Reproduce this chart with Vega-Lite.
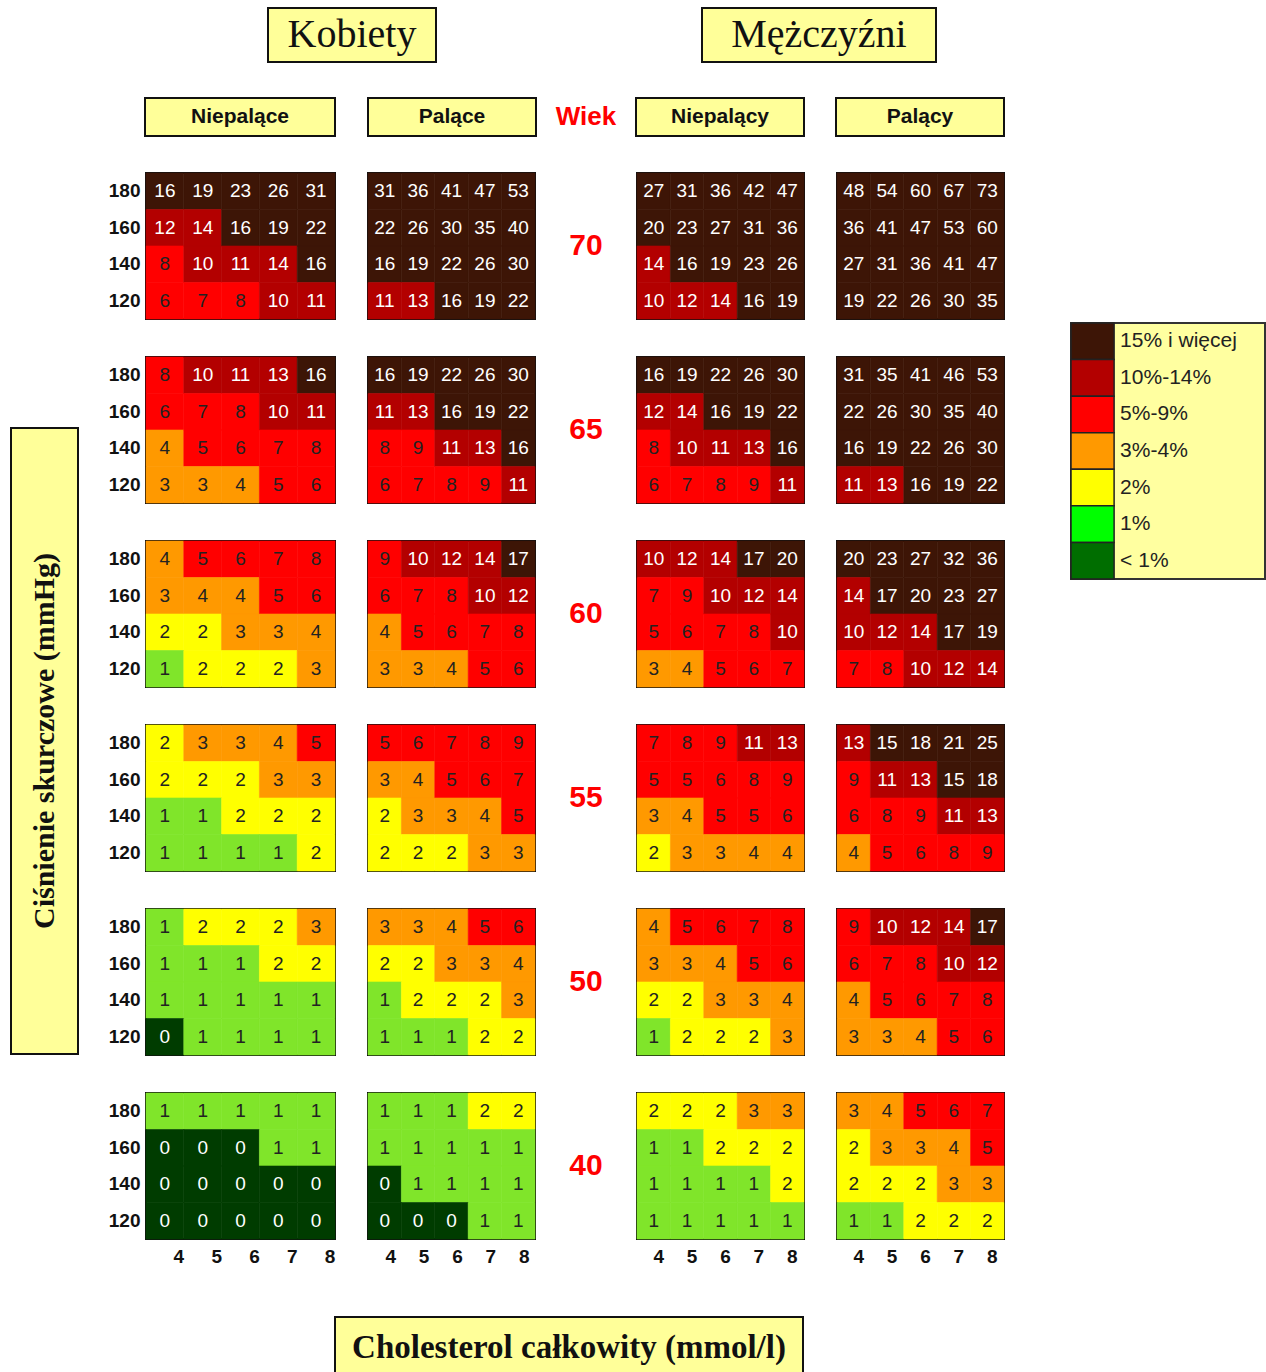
{
"$schema": "https://vega.github.io/schema/vega-lite/v6.json",
"padding": {"left": 10, "top": 7, "right": 0, "bottom": 0},
"background": "white",
"config": {"view": {"stroke": null}, "font": "Liberation Sans"},
"datasets": {
"ages": [{"a":70},{"a":65},{"a":60},{"a":55},{"a":50},{"a":40}],
"leg": [{"r":"15% i więcej"},{"r":"10%-14%"},{"r":"5%-9%"},{"r":"3%-4%"},{"r":"2%"},{"r":"1%"},{"r":"< 1%"}],
"cells": [
{"a":70,"g":"KNP","s":180,"c":4,"v":16},{"a":70,"g":"KNP","s":180,"c":5,"v":19},{"a":70,"g":"KNP","s":180,"c":6,"v":23},{"a":70,"g":"KNP","s":180,"c":7,"v":26},{"a":70,"g":"KNP","s":180,"c":8,"v":31},
{"a":70,"g":"KNP","s":160,"c":4,"v":12},{"a":70,"g":"KNP","s":160,"c":5,"v":14},{"a":70,"g":"KNP","s":160,"c":6,"v":16},{"a":70,"g":"KNP","s":160,"c":7,"v":19},{"a":70,"g":"KNP","s":160,"c":8,"v":22},
{"a":70,"g":"KNP","s":140,"c":4,"v":8},{"a":70,"g":"KNP","s":140,"c":5,"v":10},{"a":70,"g":"KNP","s":140,"c":6,"v":11},{"a":70,"g":"KNP","s":140,"c":7,"v":14},{"a":70,"g":"KNP","s":140,"c":8,"v":16},
{"a":70,"g":"KNP","s":120,"c":4,"v":6},{"a":70,"g":"KNP","s":120,"c":5,"v":7},{"a":70,"g":"KNP","s":120,"c":6,"v":8},{"a":70,"g":"KNP","s":120,"c":7,"v":10},{"a":70,"g":"KNP","s":120,"c":8,"v":11},
{"a":70,"g":"KP","s":180,"c":4,"v":31},{"a":70,"g":"KP","s":180,"c":5,"v":36},{"a":70,"g":"KP","s":180,"c":6,"v":41},{"a":70,"g":"KP","s":180,"c":7,"v":47},{"a":70,"g":"KP","s":180,"c":8,"v":53},
{"a":70,"g":"KP","s":160,"c":4,"v":22},{"a":70,"g":"KP","s":160,"c":5,"v":26},{"a":70,"g":"KP","s":160,"c":6,"v":30},{"a":70,"g":"KP","s":160,"c":7,"v":35},{"a":70,"g":"KP","s":160,"c":8,"v":40},
{"a":70,"g":"KP","s":140,"c":4,"v":16},{"a":70,"g":"KP","s":140,"c":5,"v":19},{"a":70,"g":"KP","s":140,"c":6,"v":22},{"a":70,"g":"KP","s":140,"c":7,"v":26},{"a":70,"g":"KP","s":140,"c":8,"v":30},
{"a":70,"g":"KP","s":120,"c":4,"v":11},{"a":70,"g":"KP","s":120,"c":5,"v":13},{"a":70,"g":"KP","s":120,"c":6,"v":16},{"a":70,"g":"KP","s":120,"c":7,"v":19},{"a":70,"g":"KP","s":120,"c":8,"v":22},
{"a":70,"g":"MNP","s":180,"c":4,"v":27},{"a":70,"g":"MNP","s":180,"c":5,"v":31},{"a":70,"g":"MNP","s":180,"c":6,"v":36},{"a":70,"g":"MNP","s":180,"c":7,"v":42},{"a":70,"g":"MNP","s":180,"c":8,"v":47},
{"a":70,"g":"MNP","s":160,"c":4,"v":20},{"a":70,"g":"MNP","s":160,"c":5,"v":23},{"a":70,"g":"MNP","s":160,"c":6,"v":27},{"a":70,"g":"MNP","s":160,"c":7,"v":31},{"a":70,"g":"MNP","s":160,"c":8,"v":36},
{"a":70,"g":"MNP","s":140,"c":4,"v":14},{"a":70,"g":"MNP","s":140,"c":5,"v":16},{"a":70,"g":"MNP","s":140,"c":6,"v":19},{"a":70,"g":"MNP","s":140,"c":7,"v":23},{"a":70,"g":"MNP","s":140,"c":8,"v":26},
{"a":70,"g":"MNP","s":120,"c":4,"v":10},{"a":70,"g":"MNP","s":120,"c":5,"v":12},{"a":70,"g":"MNP","s":120,"c":6,"v":14},{"a":70,"g":"MNP","s":120,"c":7,"v":16},{"a":70,"g":"MNP","s":120,"c":8,"v":19},
{"a":70,"g":"MP","s":180,"c":4,"v":48},{"a":70,"g":"MP","s":180,"c":5,"v":54},{"a":70,"g":"MP","s":180,"c":6,"v":60},{"a":70,"g":"MP","s":180,"c":7,"v":67},{"a":70,"g":"MP","s":180,"c":8,"v":73},
{"a":70,"g":"MP","s":160,"c":4,"v":36},{"a":70,"g":"MP","s":160,"c":5,"v":41},{"a":70,"g":"MP","s":160,"c":6,"v":47},{"a":70,"g":"MP","s":160,"c":7,"v":53},{"a":70,"g":"MP","s":160,"c":8,"v":60},
{"a":70,"g":"MP","s":140,"c":4,"v":27},{"a":70,"g":"MP","s":140,"c":5,"v":31},{"a":70,"g":"MP","s":140,"c":6,"v":36},{"a":70,"g":"MP","s":140,"c":7,"v":41},{"a":70,"g":"MP","s":140,"c":8,"v":47},
{"a":70,"g":"MP","s":120,"c":4,"v":19},{"a":70,"g":"MP","s":120,"c":5,"v":22},{"a":70,"g":"MP","s":120,"c":6,"v":26},{"a":70,"g":"MP","s":120,"c":7,"v":30},{"a":70,"g":"MP","s":120,"c":8,"v":35},
{"a":65,"g":"KNP","s":180,"c":4,"v":8},{"a":65,"g":"KNP","s":180,"c":5,"v":10},{"a":65,"g":"KNP","s":180,"c":6,"v":11},{"a":65,"g":"KNP","s":180,"c":7,"v":13},{"a":65,"g":"KNP","s":180,"c":8,"v":16},
{"a":65,"g":"KNP","s":160,"c":4,"v":6},{"a":65,"g":"KNP","s":160,"c":5,"v":7},{"a":65,"g":"KNP","s":160,"c":6,"v":8},{"a":65,"g":"KNP","s":160,"c":7,"v":10},{"a":65,"g":"KNP","s":160,"c":8,"v":11},
{"a":65,"g":"KNP","s":140,"c":4,"v":4},{"a":65,"g":"KNP","s":140,"c":5,"v":5},{"a":65,"g":"KNP","s":140,"c":6,"v":6},{"a":65,"g":"KNP","s":140,"c":7,"v":7},{"a":65,"g":"KNP","s":140,"c":8,"v":8},
{"a":65,"g":"KNP","s":120,"c":4,"v":3},{"a":65,"g":"KNP","s":120,"c":5,"v":3},{"a":65,"g":"KNP","s":120,"c":6,"v":4},{"a":65,"g":"KNP","s":120,"c":7,"v":5},{"a":65,"g":"KNP","s":120,"c":8,"v":6},
{"a":65,"g":"KP","s":180,"c":4,"v":16},{"a":65,"g":"KP","s":180,"c":5,"v":19},{"a":65,"g":"KP","s":180,"c":6,"v":22},{"a":65,"g":"KP","s":180,"c":7,"v":26},{"a":65,"g":"KP","s":180,"c":8,"v":30},
{"a":65,"g":"KP","s":160,"c":4,"v":11},{"a":65,"g":"KP","s":160,"c":5,"v":13},{"a":65,"g":"KP","s":160,"c":6,"v":16},{"a":65,"g":"KP","s":160,"c":7,"v":19},{"a":65,"g":"KP","s":160,"c":8,"v":22},
{"a":65,"g":"KP","s":140,"c":4,"v":8},{"a":65,"g":"KP","s":140,"c":5,"v":9},{"a":65,"g":"KP","s":140,"c":6,"v":11},{"a":65,"g":"KP","s":140,"c":7,"v":13},{"a":65,"g":"KP","s":140,"c":8,"v":16},
{"a":65,"g":"KP","s":120,"c":4,"v":6},{"a":65,"g":"KP","s":120,"c":5,"v":7},{"a":65,"g":"KP","s":120,"c":6,"v":8},{"a":65,"g":"KP","s":120,"c":7,"v":9},{"a":65,"g":"KP","s":120,"c":8,"v":11},
{"a":65,"g":"MNP","s":180,"c":4,"v":16},{"a":65,"g":"MNP","s":180,"c":5,"v":19},{"a":65,"g":"MNP","s":180,"c":6,"v":22},{"a":65,"g":"MNP","s":180,"c":7,"v":26},{"a":65,"g":"MNP","s":180,"c":8,"v":30},
{"a":65,"g":"MNP","s":160,"c":4,"v":12},{"a":65,"g":"MNP","s":160,"c":5,"v":14},{"a":65,"g":"MNP","s":160,"c":6,"v":16},{"a":65,"g":"MNP","s":160,"c":7,"v":19},{"a":65,"g":"MNP","s":160,"c":8,"v":22},
{"a":65,"g":"MNP","s":140,"c":4,"v":8},{"a":65,"g":"MNP","s":140,"c":5,"v":10},{"a":65,"g":"MNP","s":140,"c":6,"v":11},{"a":65,"g":"MNP","s":140,"c":7,"v":13},{"a":65,"g":"MNP","s":140,"c":8,"v":16},
{"a":65,"g":"MNP","s":120,"c":4,"v":6},{"a":65,"g":"MNP","s":120,"c":5,"v":7},{"a":65,"g":"MNP","s":120,"c":6,"v":8},{"a":65,"g":"MNP","s":120,"c":7,"v":9},{"a":65,"g":"MNP","s":120,"c":8,"v":11},
{"a":65,"g":"MP","s":180,"c":4,"v":31},{"a":65,"g":"MP","s":180,"c":5,"v":35},{"a":65,"g":"MP","s":180,"c":6,"v":41},{"a":65,"g":"MP","s":180,"c":7,"v":46},{"a":65,"g":"MP","s":180,"c":8,"v":53},
{"a":65,"g":"MP","s":160,"c":4,"v":22},{"a":65,"g":"MP","s":160,"c":5,"v":26},{"a":65,"g":"MP","s":160,"c":6,"v":30},{"a":65,"g":"MP","s":160,"c":7,"v":35},{"a":65,"g":"MP","s":160,"c":8,"v":40},
{"a":65,"g":"MP","s":140,"c":4,"v":16},{"a":65,"g":"MP","s":140,"c":5,"v":19},{"a":65,"g":"MP","s":140,"c":6,"v":22},{"a":65,"g":"MP","s":140,"c":7,"v":26},{"a":65,"g":"MP","s":140,"c":8,"v":30},
{"a":65,"g":"MP","s":120,"c":4,"v":11},{"a":65,"g":"MP","s":120,"c":5,"v":13},{"a":65,"g":"MP","s":120,"c":6,"v":16},{"a":65,"g":"MP","s":120,"c":7,"v":19},{"a":65,"g":"MP","s":120,"c":8,"v":22},
{"a":60,"g":"KNP","s":180,"c":4,"v":4},{"a":60,"g":"KNP","s":180,"c":5,"v":5},{"a":60,"g":"KNP","s":180,"c":6,"v":6},{"a":60,"g":"KNP","s":180,"c":7,"v":7},{"a":60,"g":"KNP","s":180,"c":8,"v":8},
{"a":60,"g":"KNP","s":160,"c":4,"v":3},{"a":60,"g":"KNP","s":160,"c":5,"v":4},{"a":60,"g":"KNP","s":160,"c":6,"v":4},{"a":60,"g":"KNP","s":160,"c":7,"v":5},{"a":60,"g":"KNP","s":160,"c":8,"v":6},
{"a":60,"g":"KNP","s":140,"c":4,"v":2},{"a":60,"g":"KNP","s":140,"c":5,"v":2},{"a":60,"g":"KNP","s":140,"c":6,"v":3},{"a":60,"g":"KNP","s":140,"c":7,"v":3},{"a":60,"g":"KNP","s":140,"c":8,"v":4},
{"a":60,"g":"KNP","s":120,"c":4,"v":1},{"a":60,"g":"KNP","s":120,"c":5,"v":2},{"a":60,"g":"KNP","s":120,"c":6,"v":2},{"a":60,"g":"KNP","s":120,"c":7,"v":2},{"a":60,"g":"KNP","s":120,"c":8,"v":3},
{"a":60,"g":"KP","s":180,"c":4,"v":9},{"a":60,"g":"KP","s":180,"c":5,"v":10},{"a":60,"g":"KP","s":180,"c":6,"v":12},{"a":60,"g":"KP","s":180,"c":7,"v":14},{"a":60,"g":"KP","s":180,"c":8,"v":17},
{"a":60,"g":"KP","s":160,"c":4,"v":6},{"a":60,"g":"KP","s":160,"c":5,"v":7},{"a":60,"g":"KP","s":160,"c":6,"v":8},{"a":60,"g":"KP","s":160,"c":7,"v":10},{"a":60,"g":"KP","s":160,"c":8,"v":12},
{"a":60,"g":"KP","s":140,"c":4,"v":4},{"a":60,"g":"KP","s":140,"c":5,"v":5},{"a":60,"g":"KP","s":140,"c":6,"v":6},{"a":60,"g":"KP","s":140,"c":7,"v":7},{"a":60,"g":"KP","s":140,"c":8,"v":8},
{"a":60,"g":"KP","s":120,"c":4,"v":3},{"a":60,"g":"KP","s":120,"c":5,"v":3},{"a":60,"g":"KP","s":120,"c":6,"v":4},{"a":60,"g":"KP","s":120,"c":7,"v":5},{"a":60,"g":"KP","s":120,"c":8,"v":6},
{"a":60,"g":"MNP","s":180,"c":4,"v":10},{"a":60,"g":"MNP","s":180,"c":5,"v":12},{"a":60,"g":"MNP","s":180,"c":6,"v":14},{"a":60,"g":"MNP","s":180,"c":7,"v":17},{"a":60,"g":"MNP","s":180,"c":8,"v":20},
{"a":60,"g":"MNP","s":160,"c":4,"v":7},{"a":60,"g":"MNP","s":160,"c":5,"v":9},{"a":60,"g":"MNP","s":160,"c":6,"v":10},{"a":60,"g":"MNP","s":160,"c":7,"v":12},{"a":60,"g":"MNP","s":160,"c":8,"v":14},
{"a":60,"g":"MNP","s":140,"c":4,"v":5},{"a":60,"g":"MNP","s":140,"c":5,"v":6},{"a":60,"g":"MNP","s":140,"c":6,"v":7},{"a":60,"g":"MNP","s":140,"c":7,"v":8},{"a":60,"g":"MNP","s":140,"c":8,"v":10},
{"a":60,"g":"MNP","s":120,"c":4,"v":3},{"a":60,"g":"MNP","s":120,"c":5,"v":4},{"a":60,"g":"MNP","s":120,"c":6,"v":5},{"a":60,"g":"MNP","s":120,"c":7,"v":6},{"a":60,"g":"MNP","s":120,"c":8,"v":7},
{"a":60,"g":"MP","s":180,"c":4,"v":20},{"a":60,"g":"MP","s":180,"c":5,"v":23},{"a":60,"g":"MP","s":180,"c":6,"v":27},{"a":60,"g":"MP","s":180,"c":7,"v":32},{"a":60,"g":"MP","s":180,"c":8,"v":36},
{"a":60,"g":"MP","s":160,"c":4,"v":14},{"a":60,"g":"MP","s":160,"c":5,"v":17},{"a":60,"g":"MP","s":160,"c":6,"v":20},{"a":60,"g":"MP","s":160,"c":7,"v":23},{"a":60,"g":"MP","s":160,"c":8,"v":27},
{"a":60,"g":"MP","s":140,"c":4,"v":10},{"a":60,"g":"MP","s":140,"c":5,"v":12},{"a":60,"g":"MP","s":140,"c":6,"v":14},{"a":60,"g":"MP","s":140,"c":7,"v":17},{"a":60,"g":"MP","s":140,"c":8,"v":19},
{"a":60,"g":"MP","s":120,"c":4,"v":7},{"a":60,"g":"MP","s":120,"c":5,"v":8},{"a":60,"g":"MP","s":120,"c":6,"v":10},{"a":60,"g":"MP","s":120,"c":7,"v":12},{"a":60,"g":"MP","s":120,"c":8,"v":14},
{"a":55,"g":"KNP","s":180,"c":4,"v":2},{"a":55,"g":"KNP","s":180,"c":5,"v":3},{"a":55,"g":"KNP","s":180,"c":6,"v":3},{"a":55,"g":"KNP","s":180,"c":7,"v":4},{"a":55,"g":"KNP","s":180,"c":8,"v":5},
{"a":55,"g":"KNP","s":160,"c":4,"v":2},{"a":55,"g":"KNP","s":160,"c":5,"v":2},{"a":55,"g":"KNP","s":160,"c":6,"v":2},{"a":55,"g":"KNP","s":160,"c":7,"v":3},{"a":55,"g":"KNP","s":160,"c":8,"v":3},
{"a":55,"g":"KNP","s":140,"c":4,"v":1},{"a":55,"g":"KNP","s":140,"c":5,"v":1},{"a":55,"g":"KNP","s":140,"c":6,"v":2},{"a":55,"g":"KNP","s":140,"c":7,"v":2},{"a":55,"g":"KNP","s":140,"c":8,"v":2},
{"a":55,"g":"KNP","s":120,"c":4,"v":1},{"a":55,"g":"KNP","s":120,"c":5,"v":1},{"a":55,"g":"KNP","s":120,"c":6,"v":1},{"a":55,"g":"KNP","s":120,"c":7,"v":1},{"a":55,"g":"KNP","s":120,"c":8,"v":2},
{"a":55,"g":"KP","s":180,"c":4,"v":5},{"a":55,"g":"KP","s":180,"c":5,"v":6},{"a":55,"g":"KP","s":180,"c":6,"v":7},{"a":55,"g":"KP","s":180,"c":7,"v":8},{"a":55,"g":"KP","s":180,"c":8,"v":9},
{"a":55,"g":"KP","s":160,"c":4,"v":3},{"a":55,"g":"KP","s":160,"c":5,"v":4},{"a":55,"g":"KP","s":160,"c":6,"v":5},{"a":55,"g":"KP","s":160,"c":7,"v":6},{"a":55,"g":"KP","s":160,"c":8,"v":7},
{"a":55,"g":"KP","s":140,"c":4,"v":2},{"a":55,"g":"KP","s":140,"c":5,"v":3},{"a":55,"g":"KP","s":140,"c":6,"v":3},{"a":55,"g":"KP","s":140,"c":7,"v":4},{"a":55,"g":"KP","s":140,"c":8,"v":5},
{"a":55,"g":"KP","s":120,"c":4,"v":2},{"a":55,"g":"KP","s":120,"c":5,"v":2},{"a":55,"g":"KP","s":120,"c":6,"v":2},{"a":55,"g":"KP","s":120,"c":7,"v":3},{"a":55,"g":"KP","s":120,"c":8,"v":3},
{"a":55,"g":"MNP","s":180,"c":4,"v":7},{"a":55,"g":"MNP","s":180,"c":5,"v":8},{"a":55,"g":"MNP","s":180,"c":6,"v":9},{"a":55,"g":"MNP","s":180,"c":7,"v":11},{"a":55,"g":"MNP","s":180,"c":8,"v":13},
{"a":55,"g":"MNP","s":160,"c":4,"v":5},{"a":55,"g":"MNP","s":160,"c":5,"v":5},{"a":55,"g":"MNP","s":160,"c":6,"v":6},{"a":55,"g":"MNP","s":160,"c":7,"v":8},{"a":55,"g":"MNP","s":160,"c":8,"v":9},
{"a":55,"g":"MNP","s":140,"c":4,"v":3},{"a":55,"g":"MNP","s":140,"c":5,"v":4},{"a":55,"g":"MNP","s":140,"c":6,"v":5},{"a":55,"g":"MNP","s":140,"c":7,"v":5},{"a":55,"g":"MNP","s":140,"c":8,"v":6},
{"a":55,"g":"MNP","s":120,"c":4,"v":2},{"a":55,"g":"MNP","s":120,"c":5,"v":3},{"a":55,"g":"MNP","s":120,"c":6,"v":3},{"a":55,"g":"MNP","s":120,"c":7,"v":4},{"a":55,"g":"MNP","s":120,"c":8,"v":4},
{"a":55,"g":"MP","s":180,"c":4,"v":13},{"a":55,"g":"MP","s":180,"c":5,"v":15},{"a":55,"g":"MP","s":180,"c":6,"v":18},{"a":55,"g":"MP","s":180,"c":7,"v":21},{"a":55,"g":"MP","s":180,"c":8,"v":25},
{"a":55,"g":"MP","s":160,"c":4,"v":9},{"a":55,"g":"MP","s":160,"c":5,"v":11},{"a":55,"g":"MP","s":160,"c":6,"v":13},{"a":55,"g":"MP","s":160,"c":7,"v":15},{"a":55,"g":"MP","s":160,"c":8,"v":18},
{"a":55,"g":"MP","s":140,"c":4,"v":6},{"a":55,"g":"MP","s":140,"c":5,"v":8},{"a":55,"g":"MP","s":140,"c":6,"v":9},{"a":55,"g":"MP","s":140,"c":7,"v":11},{"a":55,"g":"MP","s":140,"c":8,"v":13},
{"a":55,"g":"MP","s":120,"c":4,"v":4},{"a":55,"g":"MP","s":120,"c":5,"v":5},{"a":55,"g":"MP","s":120,"c":6,"v":6},{"a":55,"g":"MP","s":120,"c":7,"v":8},{"a":55,"g":"MP","s":120,"c":8,"v":9},
{"a":50,"g":"KNP","s":180,"c":4,"v":1},{"a":50,"g":"KNP","s":180,"c":5,"v":2},{"a":50,"g":"KNP","s":180,"c":6,"v":2},{"a":50,"g":"KNP","s":180,"c":7,"v":2},{"a":50,"g":"KNP","s":180,"c":8,"v":3},
{"a":50,"g":"KNP","s":160,"c":4,"v":1},{"a":50,"g":"KNP","s":160,"c":5,"v":1},{"a":50,"g":"KNP","s":160,"c":6,"v":1},{"a":50,"g":"KNP","s":160,"c":7,"v":2},{"a":50,"g":"KNP","s":160,"c":8,"v":2},
{"a":50,"g":"KNP","s":140,"c":4,"v":1},{"a":50,"g":"KNP","s":140,"c":5,"v":1},{"a":50,"g":"KNP","s":140,"c":6,"v":1},{"a":50,"g":"KNP","s":140,"c":7,"v":1},{"a":50,"g":"KNP","s":140,"c":8,"v":1},
{"a":50,"g":"KNP","s":120,"c":4,"v":0},{"a":50,"g":"KNP","s":120,"c":5,"v":1},{"a":50,"g":"KNP","s":120,"c":6,"v":1},{"a":50,"g":"KNP","s":120,"c":7,"v":1},{"a":50,"g":"KNP","s":120,"c":8,"v":1},
{"a":50,"g":"KP","s":180,"c":4,"v":3},{"a":50,"g":"KP","s":180,"c":5,"v":3},{"a":50,"g":"KP","s":180,"c":6,"v":4},{"a":50,"g":"KP","s":180,"c":7,"v":5},{"a":50,"g":"KP","s":180,"c":8,"v":6},
{"a":50,"g":"KP","s":160,"c":4,"v":2},{"a":50,"g":"KP","s":160,"c":5,"v":2},{"a":50,"g":"KP","s":160,"c":6,"v":3},{"a":50,"g":"KP","s":160,"c":7,"v":3},{"a":50,"g":"KP","s":160,"c":8,"v":4},
{"a":50,"g":"KP","s":140,"c":4,"v":1},{"a":50,"g":"KP","s":140,"c":5,"v":2},{"a":50,"g":"KP","s":140,"c":6,"v":2},{"a":50,"g":"KP","s":140,"c":7,"v":2},{"a":50,"g":"KP","s":140,"c":8,"v":3},
{"a":50,"g":"KP","s":120,"c":4,"v":1},{"a":50,"g":"KP","s":120,"c":5,"v":1},{"a":50,"g":"KP","s":120,"c":6,"v":1},{"a":50,"g":"KP","s":120,"c":7,"v":2},{"a":50,"g":"KP","s":120,"c":8,"v":2},
{"a":50,"g":"MNP","s":180,"c":4,"v":4},{"a":50,"g":"MNP","s":180,"c":5,"v":5},{"a":50,"g":"MNP","s":180,"c":6,"v":6},{"a":50,"g":"MNP","s":180,"c":7,"v":7},{"a":50,"g":"MNP","s":180,"c":8,"v":8},
{"a":50,"g":"MNP","s":160,"c":4,"v":3},{"a":50,"g":"MNP","s":160,"c":5,"v":3},{"a":50,"g":"MNP","s":160,"c":6,"v":4},{"a":50,"g":"MNP","s":160,"c":7,"v":5},{"a":50,"g":"MNP","s":160,"c":8,"v":6},
{"a":50,"g":"MNP","s":140,"c":4,"v":2},{"a":50,"g":"MNP","s":140,"c":5,"v":2},{"a":50,"g":"MNP","s":140,"c":6,"v":3},{"a":50,"g":"MNP","s":140,"c":7,"v":3},{"a":50,"g":"MNP","s":140,"c":8,"v":4},
{"a":50,"g":"MNP","s":120,"c":4,"v":1},{"a":50,"g":"MNP","s":120,"c":5,"v":2},{"a":50,"g":"MNP","s":120,"c":6,"v":2},{"a":50,"g":"MNP","s":120,"c":7,"v":2},{"a":50,"g":"MNP","s":120,"c":8,"v":3},
{"a":50,"g":"MP","s":180,"c":4,"v":9},{"a":50,"g":"MP","s":180,"c":5,"v":10},{"a":50,"g":"MP","s":180,"c":6,"v":12},{"a":50,"g":"MP","s":180,"c":7,"v":14},{"a":50,"g":"MP","s":180,"c":8,"v":17},
{"a":50,"g":"MP","s":160,"c":4,"v":6},{"a":50,"g":"MP","s":160,"c":5,"v":7},{"a":50,"g":"MP","s":160,"c":6,"v":8},{"a":50,"g":"MP","s":160,"c":7,"v":10},{"a":50,"g":"MP","s":160,"c":8,"v":12},
{"a":50,"g":"MP","s":140,"c":4,"v":4},{"a":50,"g":"MP","s":140,"c":5,"v":5},{"a":50,"g":"MP","s":140,"c":6,"v":6},{"a":50,"g":"MP","s":140,"c":7,"v":7},{"a":50,"g":"MP","s":140,"c":8,"v":8},
{"a":50,"g":"MP","s":120,"c":4,"v":3},{"a":50,"g":"MP","s":120,"c":5,"v":3},{"a":50,"g":"MP","s":120,"c":6,"v":4},{"a":50,"g":"MP","s":120,"c":7,"v":5},{"a":50,"g":"MP","s":120,"c":8,"v":6},
{"a":40,"g":"KNP","s":180,"c":4,"v":1},{"a":40,"g":"KNP","s":180,"c":5,"v":1},{"a":40,"g":"KNP","s":180,"c":6,"v":1},{"a":40,"g":"KNP","s":180,"c":7,"v":1},{"a":40,"g":"KNP","s":180,"c":8,"v":1},
{"a":40,"g":"KNP","s":160,"c":4,"v":0},{"a":40,"g":"KNP","s":160,"c":5,"v":0},{"a":40,"g":"KNP","s":160,"c":6,"v":0},{"a":40,"g":"KNP","s":160,"c":7,"v":1},{"a":40,"g":"KNP","s":160,"c":8,"v":1},
{"a":40,"g":"KNP","s":140,"c":4,"v":0},{"a":40,"g":"KNP","s":140,"c":5,"v":0},{"a":40,"g":"KNP","s":140,"c":6,"v":0},{"a":40,"g":"KNP","s":140,"c":7,"v":0},{"a":40,"g":"KNP","s":140,"c":8,"v":0},
{"a":40,"g":"KNP","s":120,"c":4,"v":0},{"a":40,"g":"KNP","s":120,"c":5,"v":0},{"a":40,"g":"KNP","s":120,"c":6,"v":0},{"a":40,"g":"KNP","s":120,"c":7,"v":0},{"a":40,"g":"KNP","s":120,"c":8,"v":0},
{"a":40,"g":"KP","s":180,"c":4,"v":1},{"a":40,"g":"KP","s":180,"c":5,"v":1},{"a":40,"g":"KP","s":180,"c":6,"v":1},{"a":40,"g":"KP","s":180,"c":7,"v":2},{"a":40,"g":"KP","s":180,"c":8,"v":2},
{"a":40,"g":"KP","s":160,"c":4,"v":1},{"a":40,"g":"KP","s":160,"c":5,"v":1},{"a":40,"g":"KP","s":160,"c":6,"v":1},{"a":40,"g":"KP","s":160,"c":7,"v":1},{"a":40,"g":"KP","s":160,"c":8,"v":1},
{"a":40,"g":"KP","s":140,"c":4,"v":0},{"a":40,"g":"KP","s":140,"c":5,"v":1},{"a":40,"g":"KP","s":140,"c":6,"v":1},{"a":40,"g":"KP","s":140,"c":7,"v":1},{"a":40,"g":"KP","s":140,"c":8,"v":1},
{"a":40,"g":"KP","s":120,"c":4,"v":0},{"a":40,"g":"KP","s":120,"c":5,"v":0},{"a":40,"g":"KP","s":120,"c":6,"v":0},{"a":40,"g":"KP","s":120,"c":7,"v":1},{"a":40,"g":"KP","s":120,"c":8,"v":1},
{"a":40,"g":"MNP","s":180,"c":4,"v":2},{"a":40,"g":"MNP","s":180,"c":5,"v":2},{"a":40,"g":"MNP","s":180,"c":6,"v":2},{"a":40,"g":"MNP","s":180,"c":7,"v":3},{"a":40,"g":"MNP","s":180,"c":8,"v":3},
{"a":40,"g":"MNP","s":160,"c":4,"v":1},{"a":40,"g":"MNP","s":160,"c":5,"v":1},{"a":40,"g":"MNP","s":160,"c":6,"v":2},{"a":40,"g":"MNP","s":160,"c":7,"v":2},{"a":40,"g":"MNP","s":160,"c":8,"v":2},
{"a":40,"g":"MNP","s":140,"c":4,"v":1},{"a":40,"g":"MNP","s":140,"c":5,"v":1},{"a":40,"g":"MNP","s":140,"c":6,"v":1},{"a":40,"g":"MNP","s":140,"c":7,"v":1},{"a":40,"g":"MNP","s":140,"c":8,"v":2},
{"a":40,"g":"MNP","s":120,"c":4,"v":1},{"a":40,"g":"MNP","s":120,"c":5,"v":1},{"a":40,"g":"MNP","s":120,"c":6,"v":1},{"a":40,"g":"MNP","s":120,"c":7,"v":1},{"a":40,"g":"MNP","s":120,"c":8,"v":1},
{"a":40,"g":"MP","s":180,"c":4,"v":3},{"a":40,"g":"MP","s":180,"c":5,"v":4},{"a":40,"g":"MP","s":180,"c":6,"v":5},{"a":40,"g":"MP","s":180,"c":7,"v":6},{"a":40,"g":"MP","s":180,"c":8,"v":7},
{"a":40,"g":"MP","s":160,"c":4,"v":2},{"a":40,"g":"MP","s":160,"c":5,"v":3},{"a":40,"g":"MP","s":160,"c":6,"v":3},{"a":40,"g":"MP","s":160,"c":7,"v":4},{"a":40,"g":"MP","s":160,"c":8,"v":5},
{"a":40,"g":"MP","s":140,"c":4,"v":2},{"a":40,"g":"MP","s":140,"c":5,"v":2},{"a":40,"g":"MP","s":140,"c":6,"v":2},{"a":40,"g":"MP","s":140,"c":7,"v":3},{"a":40,"g":"MP","s":140,"c":8,"v":3},
{"a":40,"g":"MP","s":120,"c":4,"v":1},{"a":40,"g":"MP","s":120,"c":5,"v":1},{"a":40,"g":"MP","s":120,"c":6,"v":2},{"a":40,"g":"MP","s":120,"c":7,"v":2},{"a":40,"g":"MP","s":120,"c":8,"v":2}
]},
"spacing": 34,
"vconcat": [
{"spacing": 0, "hconcat": [
  {"width": 256, "height": 54, "data": {"values": [{}]}, "mark": "text", "encoding": {"text": {"value": ""}}},
  {"width": 168, "height": 54, "view": {"fill": "#ffff99", "stroke": "#111", "strokeWidth": 2}, "data": {"values": [{"t": "Kobiety"}]}, "mark": {"type": "text", "font": "Liberation Serif", "fontSize": 40, "color": "#111"}, "encoding": {"text": {"field": "t"}}},
  {"width": 264, "height": 54, "data": {"values": [{}]}, "mark": "text", "encoding": {"text": {"value": ""}}},
  {"width": 234, "height": 54, "view": {"fill": "#ffff99", "stroke": "#111", "strokeWidth": 2}, "data": {"values": [{"t": "Mężczyźni"}]}, "mark": {"type": "text", "font": "Liberation Serif", "fontSize": 40, "color": "#111"}, "encoding": {"text": {"field": "t"}}}
]},
{"spacing": 0, "hconcat": [
  {"width": 133, "height": 38, "data": {"values": [{}]}, "mark": "text", "encoding": {"text": {"value": ""}}},
  {"width": 190, "height": 38, "view": {"fill": "#ffff99", "stroke": "#111", "strokeWidth": 2}, "data": {"values": [{"t": "Niepalące"}]}, "mark": {"type": "text", "fontSize": 21, "fontWeight": "bold", "color": "#111"}, "encoding": {"text": {"field": "t"}}},
  {"width": 31, "height": 38, "data": {"values": [{}]}, "mark": "text", "encoding": {"text": {"value": ""}}},
  {"width": 168, "height": 38, "view": {"fill": "#ffff99", "stroke": "#111", "strokeWidth": 2}, "data": {"values": [{"t": "Palące"}]}, "mark": {"type": "text", "fontSize": 21, "fontWeight": "bold", "color": "#111"}, "encoding": {"text": {"field": "t"}}},
  {"width": 98, "height": 38, "data": {"values": [{"t": "Wiek"}]}, "mark": {"type": "text", "fontSize": 26, "fontWeight": "bold", "color": "#ff0000"}, "encoding": {"text": {"field": "t"}}},
  {"width": 168, "height": 38, "view": {"fill": "#ffff99", "stroke": "#111", "strokeWidth": 2}, "data": {"values": [{"t": "Niepalący"}]}, "mark": {"type": "text", "fontSize": 21, "fontWeight": "bold", "color": "#111"}, "encoding": {"text": {"field": "t"}}},
  {"width": 30, "height": 38, "data": {"values": [{}]}, "mark": "text", "encoding": {"text": {"value": ""}}},
  {"width": 168, "height": 38, "view": {"fill": "#ffff99", "stroke": "#111", "strokeWidth": 2}, "data": {"values": [{"t": "Palący"}]}, "mark": {"type": "text", "fontSize": 21, "fontWeight": "bold", "color": "#111"}, "encoding": {"text": {"field": "t"}}}
]},
{"spacing": 29, "hconcat": [
  {"spacing": 20, "vconcat": [
    {"width": 67, "height": 234, "data": {"values": [{}]}, "mark": "text", "encoding": {"text": {"value": ""}}},
    {"width": 67, "height": 626, "view": {"fill": "#ffff99", "stroke": "#111", "strokeWidth": 2}, "data": {"values": [{"t": "Ciśnienie skurczowe (mmHg)"}]}, "mark": {"type": "text", "font": "Liberation Serif", "fontSize": 30, "fontWeight": "bold", "angle": 270, "color": "#111"}, "encoding": {"text": {"field": "t"}}}
  ]},
  {"data": {"name": "cells"}, "transform": [{"filter": "datum.g === 'KNP'"}],
   "facet": {"row": {"field": "a", "type": "ordinal", "sort": [70,65,60,55,50,40], "header": null}},
   "spacing": {"row": 34},
   "spec": {"width": 189, "height": 146, "view": {"stroke": "#111", "strokeWidth": 2},
     "encoding": {
       "x": {"field": "c", "type": "ordinal", "scale": {"paddingInner": 0, "paddingOuter": 0}, "axis": {"title": null, "labelAngle": 0, "ticks": false, "domain": false, "labelPadding": 6, "labelOffset": 14, "labelFontSize": 19, "labelFontWeight": "bold", "labelColor": "#111", "minExtent": 41, "maxExtent": 41}},
       "y": {"field": "s", "type": "ordinal", "sort": "descending", "scale": {"paddingInner": 0, "paddingOuter": 0}, "axis": {"title": null, "ticks": false, "domain": false, "labelPadding": 4, "labelFontSize": 19, "labelFontWeight": "bold", "labelColor": "#111", "minExtent": 35, "maxExtent": 35}}
     },
     "layer": [
       {"mark": {"type": "rect", "strokeWidth": 0.6}, "encoding": {
         "color": {"field": "v", "type": "quantitative", "scale": {"type": "threshold", "domain": [1,2,3,5,10,15], "range": ["#003c00","#80e52a","#ffff00","#ff9900","#ff0000","#b30000","#3d1506"]}, "legend": null},
         "stroke": {"field": "v", "type": "quantitative", "scale": {"type": "threshold", "domain": [1,2,3,5,10,15], "range": ["#003c00","#80e52a","#ffff00","#ff9900","#ff0000","#b30000","#3d1506"]}, "legend": null}}},
       {"mark": {"type": "text", "fontSize": 19}, "encoding": {"text": {"field": "v", "type": "quantitative"}, "color": {"condition": {"test": "datum.v >= 10 || datum.v < 1", "value": "#ffffff"}, "value": "#222222"}}}
     ]}
  },
  {"data": {"name": "cells"}, "transform": [{"filter": "datum.g === 'KP'"}],
   "facet": {"row": {"field": "a", "type": "ordinal", "sort": [70,65,60,55,50,40], "header": null}},
   "spacing": {"row": 34},
   "spec": {"width": 167, "height": 146, "view": {"stroke": "#111", "strokeWidth": 2},
     "encoding": {
       "x": {"field": "c", "type": "ordinal", "scale": {"paddingInner": 0, "paddingOuter": 0}, "axis": {"title": null, "labelAngle": 0, "ticks": false, "domain": false, "labelPadding": 6, "labelOffset": 6, "labelFontSize": 19, "labelFontWeight": "bold", "labelColor": "#111", "minExtent": 41, "maxExtent": 41}},
       "y": {"field": "s", "type": "ordinal", "sort": "descending", "scale": {"paddingInner": 0, "paddingOuter": 0}, "axis": null}
     },
     "layer": [
       {"mark": {"type": "rect", "strokeWidth": 0.6}, "encoding": {
         "color": {"field": "v", "type": "quantitative", "scale": {"type": "threshold", "domain": [1,2,3,5,10,15], "range": ["#003c00","#80e52a","#ffff00","#ff9900","#ff0000","#b30000","#3d1506"]}, "legend": null},
         "stroke": {"field": "v", "type": "quantitative", "scale": {"type": "threshold", "domain": [1,2,3,5,10,15], "range": ["#003c00","#80e52a","#ffff00","#ff9900","#ff0000","#b30000","#3d1506"]}, "legend": null}}},
       {"mark": {"type": "text", "fontSize": 19}, "encoding": {"text": {"field": "v", "type": "quantitative"}, "color": {"condition": {"test": "datum.v >= 10 || datum.v < 1", "value": "#ffffff"}, "value": "#222222"}}}
     ]}
  },
  {"data": {"name": "ages"},
   "facet": {"row": {"field": "a", "type": "ordinal", "sort": [70,65,60,55,50,40], "header": null}},
   "spacing": {"row": 36},
   "spec": {"width": 38, "height": 146, "view": {"stroke": "#ffffff", "strokeWidth": 2}, "mark": {"type": "text", "fontSize": 30, "fontWeight": "bold", "color": "#ff0000"}, "encoding": {"text": {"field": "a", "type": "ordinal"}}}
  },
  {"data": {"name": "cells"}, "transform": [{"filter": "datum.g === 'MNP'"}],
   "facet": {"row": {"field": "a", "type": "ordinal", "sort": [70,65,60,55,50,40], "header": null}},
   "spacing": {"row": 34},
   "spec": {"width": 167, "height": 146, "view": {"stroke": "#111", "strokeWidth": 2},
     "encoding": {
       "x": {"field": "c", "type": "ordinal", "scale": {"paddingInner": 0, "paddingOuter": 0}, "axis": {"title": null, "labelAngle": 0, "ticks": false, "domain": false, "labelPadding": 6, "labelOffset": 5, "labelFontSize": 19, "labelFontWeight": "bold", "labelColor": "#111", "minExtent": 41, "maxExtent": 41}},
       "y": {"field": "s", "type": "ordinal", "sort": "descending", "scale": {"paddingInner": 0, "paddingOuter": 0}, "axis": null}
     },
     "layer": [
       {"mark": {"type": "rect", "strokeWidth": 0.6}, "encoding": {
         "color": {"field": "v", "type": "quantitative", "scale": {"type": "threshold", "domain": [1,2,3,5,10,15], "range": ["#003c00","#80e52a","#ffff00","#ff9900","#ff0000","#b30000","#3d1506"]}, "legend": null},
         "stroke": {"field": "v", "type": "quantitative", "scale": {"type": "threshold", "domain": [1,2,3,5,10,15], "range": ["#003c00","#80e52a","#ffff00","#ff9900","#ff0000","#b30000","#3d1506"]}, "legend": null}}},
       {"mark": {"type": "text", "fontSize": 19}, "encoding": {"text": {"field": "v", "type": "quantitative"}, "color": {"condition": {"test": "datum.v >= 10 || datum.v < 1", "value": "#ffffff"}, "value": "#222222"}}}
     ]}
  },
  {"data": {"name": "cells"}, "transform": [{"filter": "datum.g === 'MP'"}],
   "facet": {"row": {"field": "a", "type": "ordinal", "sort": [70,65,60,55,50,40], "header": null}},
   "spacing": {"row": 34},
   "spec": {"width": 167, "height": 146, "view": {"stroke": "#111", "strokeWidth": 2},
     "encoding": {
       "x": {"field": "c", "type": "ordinal", "scale": {"paddingInner": 0, "paddingOuter": 0}, "axis": {"title": null, "labelAngle": 0, "ticks": false, "domain": false, "labelPadding": 6, "labelOffset": 5, "labelFontSize": 19, "labelFontWeight": "bold", "labelColor": "#111", "minExtent": 41, "maxExtent": 41}},
       "y": {"field": "s", "type": "ordinal", "sort": "descending", "scale": {"paddingInner": 0, "paddingOuter": 0}, "axis": null}
     },
     "layer": [
       {"mark": {"type": "rect", "strokeWidth": 0.6}, "encoding": {
         "color": {"field": "v", "type": "quantitative", "scale": {"type": "threshold", "domain": [1,2,3,5,10,15], "range": ["#003c00","#80e52a","#ffff00","#ff9900","#ff0000","#b30000","#3d1506"]}, "legend": null},
         "stroke": {"field": "v", "type": "quantitative", "scale": {"type": "threshold", "domain": [1,2,3,5,10,15], "range": ["#003c00","#80e52a","#ffff00","#ff9900","#ff0000","#b30000","#3d1506"]}, "legend": null}}},
       {"mark": {"type": "text", "fontSize": 19}, "encoding": {"text": {"field": "v", "type": "quantitative"}, "color": {"condition": {"test": "datum.v >= 10 || datum.v < 1", "value": "#ffffff"}, "value": "#222222"}}}
     ]}
  },
  {"width": 5, "height": 10, "data": {"values": [{}]}, "mark": "text", "encoding": {"text": {"value": ""}}},
  {"spacing": 20, "vconcat": [
    {"width": 194, "height": 128, "data": {"values": [{}]}, "mark": "text", "encoding": {"text": {"value": ""}}},
    {"width": 194, "height": 256, "view": {"fill": "#ffffa0", "stroke": "#333", "strokeWidth": 2}, "data": {"name": "leg"},
     "encoding": {"y": {"field": "r", "type": "nominal", "sort": null, "scale": {"paddingInner": 0, "paddingOuter": 0}, "axis": null}},
     "layer": [
       {"mark": {"type": "rect", "stroke": "#222", "strokeWidth": 1.5}, "encoding": {
         "x": {"datum": 0, "type": "quantitative", "scale": {"domain": [0, 4.5], "nice": false, "zero": false}, "axis": null},
         "x2": {"datum": 1},
         "fill": {"field": "r", "type": "nominal", "sort": null, "scale": {"domain": ["15% i więcej","10%-14%","5%-9%","3%-4%","2%","1%","< 1%"], "range": ["#3d1506","#b30000","#ff0000","#ff9900","#ffff00","#00ff00","#006e00"]}, "legend": null}}},
       {"mark": {"type": "text", "align": "left", "dx": 6, "fontSize": 21, "color": "#222"}, "encoding": {"x": {"datum": 1, "type": "quantitative"}, "text": {"field": "r"}}}
     ]}
  ]}
]},
{"spacing": 0, "hconcat": [
  {"width": 323, "height": 56, "data": {"values": [{}]}, "mark": "text", "encoding": {"text": {"value": ""}}},
  {"width": 468, "height": 56, "view": {"fill": "#ffff99", "stroke": "#111", "strokeWidth": 2}, "data": {"values": [{"t": "Cholesterol całkowity (mmol/l)"}]}, "mark": {"type": "text", "font": "Liberation Serif", "fontSize": 33, "fontWeight": "bold", "color": "#111", "dy": 3}, "encoding": {"text": {"field": "t"}}}
]}
]
}
